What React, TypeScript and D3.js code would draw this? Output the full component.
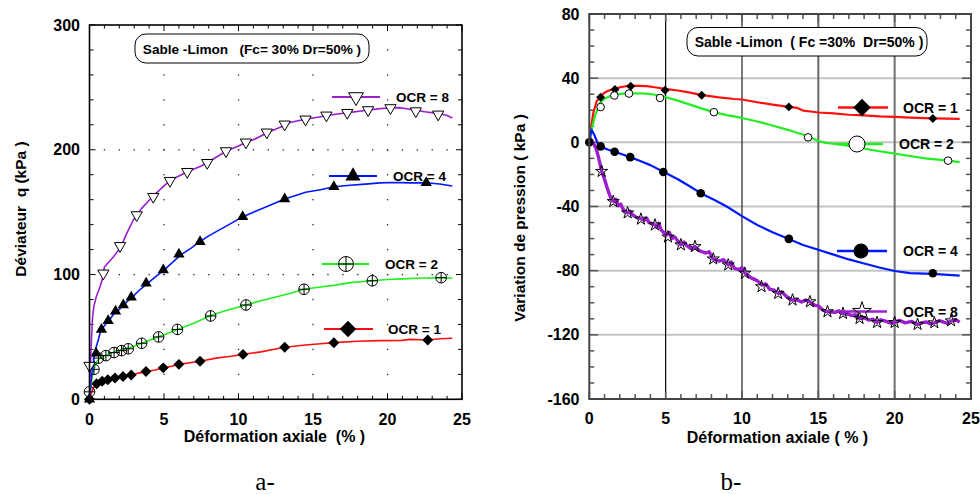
import React from 'react';
import * as d3 from 'd3';

type P = [number, number];

// ---------- Chart a: déviateur q (kPa) vs déformation axiale (%) ----------
const qOcr8Line: P[] = [[0,0],[0.1,40],[0.2,65],[0.3,75],[0.45,82],[0.7,90],[0.88,97],[1.0,106],[1.3,110],[1.6,114],[2.1,122],[2.5,133],[2.94,143.7],[3.5,153],[4.2,162],[5,171],[5.5,176],[6.5,182],[7.5,187],[8.5,194],[9.2,199],[10,203],[10.5,206],[11,208],[12,214],[13,219],[13.5,222],[14.5,224.5],[15.5,226.5],[16.5,228.5],[17.5,230],[18.5,231.5],[19.5,233],[20.2,233.5],[20.8,233.8],[21.5,232.5],[22.5,230.5],[23.5,229],[24,227.5],[24.35,225.5]];
const qOcr8Pts: P[] = [[0,27],[0.93,101],[2.05,123],[3.17,147.7],[4.28,162.4],[5.4,175.2],[6.56,182.4],[7.9,189.6],[9.16,199],[10.5,206],[11.9,214],[13.1,220.4],[14.5,224.4],[15.9,227.6],[17.3,229.7],[18.7,231.9],[20.2,233.5],[21.9,231],[23.4,228.4]];

const qOcr4Line: P[] = [[0,0],[0.15,20],[0.3,33],[0.4,40],[0.6,48],[0.75,55],[1.0,59],[1.3,63],[1.6,68],[2.0,72],[2.3,76],[2.8,81],[3.3,87],[3.8,92],[4.4,98],[5,103.6],[5.5,109],[6.1,115.6],[6.8,121],[7.4,126.3],[8,131],[8.6,135],[9.5,141],[10.3,146.4],[11,150],[12,155],[13.1,160.5],[14,164],[14.5,166],[15.5,168],[16.4,170.4],[17.5,171.5],[18.5,172.5],[19.5,173.5],[20.5,173.8],[21.5,173.5],[22.6,173.6],[23.5,172.5],[24.35,171]];
const qOcr4Pts: P[] = [[0,0],[0.44,37],[0.8,56],[1.25,63],[1.75,70.5],[2.27,75.6],[2.8,81.7],[3.8,93],[4.95,103.6],[6.0,116.3],[7.42,126.3],[10.28,146.4],[13.1,160.5],[16.4,170.4],[22.6,173.6]];

const qOcr2Line: P[] = [[0,0],[0.1,10],[0.2,20],[0.4,28],[0.6,32],[1.0,35],[1.6,37.5],[2.1,39.5],[2.6,41],[3.5,45],[4.6,50],[5.9,56],[7,61],[8.1,67],[9,70.5],[10.5,75.6],[11.5,79],[12.5,82],[13.5,85],[14.4,88.2],[15.5,90],[16.5,91.5],[17.5,93.5],[19,95],[20,96],[21,96.5],[22,97],[23.6,97.5],[24.35,97]];
const qOcr2Pts: P[] = [[0,6],[0.3,24],[0.6,33],[1.1,35],[1.65,37.5],[2.15,39],[2.6,40.5],[3.5,44.9],[4.64,50],[5.9,56],[8.13,66.8],[10.5,75.6],[14.4,88.2],[18.98,95],[23.6,97.5]];

const qOcr1Line: P[] = [[0,0],[0.15,6],[0.3,10],[0.5,12.5],[0.85,14.5],[1.23,15.7],[1.71,17],[2.25,18.2],[2.8,19.5],[3.3,21],[3.79,22.3],[4.4,23.5],[4.95,25.2],[5.5,26.5],[6.0,28],[7.42,30.5],[8.5,33],[9.5,34.5],[10.3,36],[11.5,38],[13.1,41.7],[14.5,43.5],[15.5,44.5],[16.4,45.4],[18,46.5],[19.5,47],[21,47.2],[21.5,48],[22.7,47.5],[23.5,48.5],[24.35,48.9]];
const qOcr1Pts: P[] = [[0,0],[0.48,12.5],[0.85,14.5],[1.23,15.7],[1.71,17],[2.25,18.2],[2.8,19.5],[3.79,22.3],[4.95,25.2],[6.0,28],[7.42,30.5],[10.3,36],[13.1,41.7],[16.4,45.4],[22.7,47.5]];

// ---------- Chart b: variation de pression (kPa) vs déformation axiale (%) ----------
const uOcr1Line: P[] = [[0,0],[0.1,8],[0.26,18.3],[0.48,25.6],[0.74,28.5],[0.92,30.4],[1.2,32],[1.57,33.3],[2.1,34.5],[2.66,35.4],[3.2,35.2],[3.76,35],[4.4,34.2],[4.96,33.3],[5.8,32.3],[6.6,31],[7.4,29.4],[8.5,28],[9.5,27],[10,26.7],[11,25],[12,23.5],[13.07,22.1],[13.6,21.5],[14,19.8],[14.5,19.2],[15,18.6],[16,18],[17,17.2],[18,16.8],[19,16.2],[20,15.9],[21,15.4],[22.5,14.9],[24.26,14.6]];
const uOcr1Pts: P[] = [[0.74,28.1],[1.68,32.9],[2.71,35],[4.96,32.5],[7.36,29.4],[13.07,22.1],[22.5,14.8]];

const uOcr2Line: P[] = [[0,0],[0.15,8],[0.37,16.3],[0.7,24.6],[1.0,27.3],[1.35,28.8],[1.8,29.8],[2.23,30.4],[3,30.6],[3.76,30.4],[4.4,29.5],[4.96,28.3],[5.8,26],[6.6,23.5],[7.4,21],[8.16,18.8],[9,17],[10,15.2],[11,13],[12,10.5],[13,7.8],[14.33,3.8],[15,0.8],[15.5,-0.3],[16.5,-1.5],[17.5,-3],[18.5,-4.8],[20,-7],[21,-8.5],[22,-10],[23.5,-11.4],[24.26,-12.3]];
const uOcr2Pts: P[] = [[0.74,22],[1.64,29.2],[2.6,30.4],[4.63,27.7],[8.16,18.8],[14.33,3.1],[23.5,-11.4]];

const uOcr4Line: P[] = [[0,0],[0.08,5],[0.15,7.9],[0.25,6],[0.37,3.75],[0.59,-1.5],[0.8,-3],[1.2,-4.5],[1.57,-5.6],[2.1,-7.3],[2.66,-9.2],[3.3,-11.5],[4,-14.2],[4.85,-18.3],[5.8,-23],[6.6,-27.5],[7.3,-31.7],[8.2,-36],[9,-40],[10,-46],[11,-51.5],[12,-56],[13.07,-60.2],[14,-64],[15,-67],[16,-70],[17,-73],[18,-75.5],[19,-78],[20,-80.2],[21,-81.5],[22.5,-82],[24.26,-83.1]];
const uOcr4Pts: P[] = [[0,0],[0.74,-2.5],[1.66,-5.9],[2.68,-9.2],[4.85,-18.5],[7.3,-31.7],[13.07,-60.2],[22.5,-81.6]];

const uOcr8Line: P[] = [[0,0],[0.1,2],[0.26,-0.4],[0.45,-4],[0.59,-8.75],[0.81,-18.1],[1.0,-23],[1.14,-27.5],[1.3,-32],[1.46,-35.8],[1.62,-37],[1.75,-35.5],[1.9,-39.5],[2.05,-38.5],[2.23,-42],[2.5,-44],[2.65,-42.8],[2.8,-45],[3.1,-46.8],[3.32,-47.3],[3.6,-48.5],[3.75,-47.2],[3.9,-50],[4.2,-50.8],[4.4,-52.5],[4.55,-50.5],[4.7,-54.5],[4.85,-56],[5.07,-57.7],[5.25,-56.2],[5.4,-60],[5.6,-59],[5.8,-61.5],[6.0,-63.9],[6.2,-62.2],[6.4,-64.5],[6.7,-66.5],[6.9,-65],[7.2,-67.5],[7.6,-69],[7.85,-68.2],[8.1,-72.7],[8.5,-74],[8.8,-73.2],[9.1,-76.4],[9.3,-74.6],[9.5,-78.5],[9.8,-79.4],[10.0,-78.2],[10.2,-81.6],[10.4,-83],[10.6,-84.5],[11.0,-86.2],[11.3,-89],[11.55,-88.2],[11.8,-91.5],[12.1,-92.2],[12.4,-94.2],[12.6,-93.2],[12.9,-96],[13.3,-98.3],[13.6,-98.2],[13.9,-99.5],[14.2,-98.4],[14.45,-99.4],[14.75,-101.5],[15,-102],[15.3,-104.6],[15.6,-105.6],[16.1,-106],[16.35,-105],[16.6,-106.7],[17.0,-107.2],[17.2,-108],[17.45,-107.4],[17.7,-109.8],[18.0,-109.4],[18.3,-110.8],[18.6,-110.3],[18.85,-112.3],[19.1,-110.6],[19.4,-111.5],[19.7,-112.6],[20,-112.3],[20.3,-111],[20.7,-112.5],[21.1,-111.6],[21.5,-113.5],[21.8,-112.4],[22.1,-112],[22.35,-113.2],[22.6,-112.5],[22.9,-111.2],[23.2,-112],[23.45,-112.8],[23.7,-111.3],[24.0,-110.8],[24.26,-112]];
const uOcr8Pts: P[] = [[0.81,-18.1],[1.57,-36.9],[2.51,-44],[3.38,-47.9],[4.3,-51.5],[5.15,-59],[6.0,-63.9],[6.92,-65],[8.12,-72.7],[9.1,-76.4],[10.19,-81.6],[11.28,-90],[12.37,-94.2],[13.31,-98.3],[14.45,-99.4],[15.6,-105.6],[16.62,-106.7],[17.7,-109.8],[18.85,-112.3],[20,-112.3],[21.5,-113.5],[22.6,-112.5],[23.7,-111.3]];

// ---------- ticks & labels ----------
const strainTickLabels = [0, 5, 10, 15, 20, 25];
const qTickLabels = [0, 100, 200, 300];
const uTickLabels = [80, 40, 0, -40, -80, -120, -160];
const ocrLabels = ['OCR = 1', 'OCR = 2', 'OCR = 4', 'OCR = 8'];
const leftBoxText = 'Sable -Limon   (Fc= 30% Dr=50% )';
const rightBoxText = 'Sable -Limon  ( Fc =30%  Dr=50% )';

// ---------- scales ----------
const lx = d3.scaleLinear().domain([0, 25]).range([89.5, 462]);
const ly = d3.scaleLinear().domain([0, 300]).range([399.3, 25]);
const rx = d3.scaleLinear().domain([0, 25]).range([589.3, 971]);
const ry = d3.scaleLinear().domain([-160, 80]).range([399, 14]);

const RED = '#ff1010';
const GREEN = '#22ee22';
const BLUE = '#0018ff';
const PURPLE = '#9b1fcf';
const FONT = 'Liberation Sans, Arial, sans-serif';

const sym = (type: d3.SymbolType, size: number) => d3.symbol().type(type).size(size)() as string;

type MarkerKind = 'triDown' | 'triUp' | 'circlePlus' | 'diamond' | 'circleOpen' | 'circleFilled' | 'star';

function Marker({ kind, x, y, s }: { kind: MarkerKind; x: number; y: number; s: number }) {
  switch (kind) {
    case 'triDown':
      return <path d={sym(d3.symbolTriangle, s)} transform={`translate(${x},${y}) rotate(180)`} fill="#fff" stroke="#000" strokeWidth={1} />;
    case 'triUp':
      return <path d={sym(d3.symbolTriangle, s)} transform={`translate(${x},${y})`} fill="#000" />;
    case 'diamond':
      return <path d={sym(d3.symbolSquare, s)} transform={`translate(${x},${y}) rotate(45)`} fill="#000" />;
    case 'circlePlus':
      return (
        <g transform={`translate(${x},${y})`} stroke="#000" strokeWidth={1} fill="none">
          <circle r={s} />
          <line x1={-s} x2={s} y1={0} y2={0} />
          <line x1={0} x2={0} y1={-s} y2={s} />
        </g>
      );
    case 'circleOpen':
      return <circle cx={x} cy={y} r={s} fill="#fff" stroke="#000" strokeWidth={1} />;
    case 'circleFilled':
      return <circle cx={x} cy={y} r={s} fill="#000" />;
    case 'star':
      return <path d={sym(d3.symbolStar, s)} transform={`translate(${x},${y})`} fill="none" stroke="#000" strokeWidth={1} />;
  }
  return null;
}

export default function App() {
  const lineL = d3.line<P>().x(d => lx(d[0])).y(d => ly(d[1]));
  const lineR = d3.line<P>().x(d => rx(d[0])).y(d => ry(d[1]));

  const leftSeries = [
    { line: qOcr1Line, pts: qOcr1Pts, color: RED, kind: 'diamond' as MarkerKind, s: 60, label: ocrLabels[0], lg: { x1: 324, x2: 373, y: 329, mx: 348, tx: 388, s: 135 } },
    { line: qOcr2Line, pts: qOcr2Pts, color: GREEN, kind: 'circlePlus' as MarkerKind, s: 5.3, label: ocrLabels[1], lg: { x1: 322, x2: 369, y: 264, mx: 346, tx: 385, s: 7.5 } },
    { line: qOcr4Line, pts: qOcr4Pts, color: BLUE, kind: 'triUp' as MarkerKind, s: 55, label: ocrLabels[2], lg: { x1: 329, x2: 377, y: 176, mx: 353, tx: 393, s: 100 } },
    { line: qOcr8Line, pts: qOcr8Pts, color: PURPLE, kind: 'triDown' as MarkerKind, s: 55, label: ocrLabels[3], lg: { x1: 332, x2: 380, y: 97, mx: 356, tx: 396, s: 95 } },
  ];
  const rightSeries = [
    { line: uOcr1Line, pts: uOcr1Pts, color: RED, w: 2.2, kind: 'diamond' as MarkerKind, s: 40, label: ocrLabels[0], lg: { x1: 838, x2: 888, y: 107.5, mx: 862, tx: 903, s: 150 } },
    { line: uOcr2Line, pts: uOcr2Pts, color: GREEN, w: 2.2, kind: 'circleOpen' as MarkerKind, s: 3.8, label: ocrLabels[1], lg: { x1: 836, x2: 883, y: 144, mx: 857, tx: 899, s: 8 } },
    { line: uOcr4Line, pts: uOcr4Pts, color: BLUE, w: 2.2, kind: 'circleFilled' as MarkerKind, s: 4.3, label: ocrLabels[2], lg: { x1: 837, x2: 887, y: 251, mx: 861, tx: 903, s: 7.5 } },
    { line: uOcr8Line, pts: uOcr8Pts, color: PURPLE, w: 3.4, kind: 'star' as MarkerKind, s: 45, label: ocrLabels[3], lg: { x1: 836, x2: 887, y: 311.5, mx: 862, tx: 903, s: 110 } },
  ];

  const [lx0, lx1] = lx.range();
  const [ly0, ly1] = ly.range();
  const [rx0, rx1] = rx.range();
  const [ry0, ry1] = ry.range();

  const strainMinor = d3.range(0, 26, 1);

  return (
    <svg width={980} height={494} style={{ position: 'absolute', left: 0, top: 0, background: '#fff' }} fontFamily={FONT}>
      <rect width={980} height={494} fill="#fff" />

      {/* ================= Chart a ================= */}
      <g fill="#222">
        {[5, 10, 15, 20].flatMap(g => d3.range(20, 300, 20).map(v => (
          <rect key={`vd${g}-${v}`} x={lx(g) - 0.6} y={ly(v) - 0.6} width={1.3} height={1.3} />
        )))}
        {[100, 200].flatMap(v => d3.range(1, 25, 1).map(g => (
          <rect key={`hd${v}-${g}`} x={lx(g) - 0.6} y={ly(v) - 0.6} width={1.3} height={1.3} />
        )))}
      </g>
      <g stroke="#000" strokeWidth={1}>
        {strainMinor.map(t => {
          const len = t % 5 === 0 ? 6 : 3.5;
          return (
            <g key={`lxt${t}`}>
              <line x1={lx(t)} x2={lx(t)} y1={ly0} y2={ly0 - len} />
              <line x1={lx(t)} x2={lx(t)} y1={ly1} y2={ly1 + len} />
            </g>
          );
        })}
        {d3.range(0, 301, 20).map(t => {
          const len = t % 100 === 0 ? 6 : 4;
          return (
            <g key={`lyt${t}`}>
              <line x1={lx0} x2={lx0 + len} y1={ly(t)} y2={ly(t)} />
              <line x1={lx1} x2={lx1 - len} y1={ly(t)} y2={ly(t)} />
            </g>
          );
        })}
      </g>
      {leftSeries.map((s, i) => (
        <g key={`ls${i}`}>
          <path d={lineL(s.line) as string} fill="none" stroke={s.color} strokeWidth={1.6} strokeLinejoin="round" />
          {s.pts.map((p, j) => <Marker key={j} kind={s.kind} x={lx(p[0])} y={ly(p[1])} s={s.s} />)}
        </g>
      ))}
      <rect x={lx0} y={ly1} width={lx1 - lx0} height={ly0 - ly1} fill="none" stroke="#000" strokeWidth={1.6} />
      {leftSeries.map((s, i) => (
        <g key={`ll${i}`}>
          <line x1={s.lg.x1} x2={s.lg.x2} y1={s.lg.y} y2={s.lg.y} stroke={s.color} strokeWidth={2} />
          <Marker kind={s.kind} x={s.lg.mx} y={s.lg.y} s={s.lg.s} />
          <text x={s.lg.tx} y={s.lg.y + 4.8} fontSize={13.5} fontWeight="bold" fill="#000">{s.label}</text>
        </g>
      ))}
      <rect x={135} y={34} width={234} height={29} rx={11} fill="#fff" stroke="#000" strokeWidth={1} />
      <text x={252} y={53.8} textAnchor="middle" fontSize={13.6} fontWeight="bold" style={{ whiteSpace: 'pre' }}>{leftBoxText}</text>
      {strainTickLabels.map(t => (
        <text key={`lxl${t}`} x={lx(t)} y={425} textAnchor="middle" fontSize={16} fontWeight="bold">{t}</text>
      ))}
      {qTickLabels.map(t => (
        <text key={`lyl${t}`} x={80} y={ly(t) + 5.6} textAnchor="end" fontSize={16} fontWeight="bold">{t}</text>
      ))}
      <text x={274.5} y={442} textAnchor="middle" fontSize={16} fontWeight="bold" style={{ whiteSpace: 'pre' }}>{'Déformation axiale  (% )'}</text>
      <text transform="translate(25.5,209) rotate(-90)" textAnchor="middle" fontSize={15.5} fontWeight="bold" style={{ whiteSpace: 'pre' }}>{'Déviateur  q (kPa )'}</text>
      <text x={265} y={490} textAnchor="middle" fontSize={25} fontFamily="Liberation Serif, Times New Roman, serif">a-</text>

      {/* ================= Chart b ================= */}
      <g>
        {[40, 0, -40, -80, -120].map(v => (
          <line key={`rh${v}`} x1={rx0} x2={rx1} y1={ry(v)} y2={ry(v)} stroke="#c4c4c4" strokeWidth={2} />
        ))}
        {[5, 10, 15, 20].map((g, i) => (
          <line key={`rv${g}`} x1={rx(g)} x2={rx(g)} y1={ry0} y2={ry1} stroke={['#000', '#222', '#666', '#707070'][i]} strokeWidth={i < 2 ? 1.2 : 2} />
        ))}
      </g>
      <g stroke="#555" strokeWidth={1.5}>
        {strainMinor.map(t => {
          const len = t % 5 === 0 ? 8 : 5;
          return (
            <g key={`rxt${t}`}>
              <line x1={rx(t)} x2={rx(t)} y1={ry0} y2={ry0 - len} />
              <line x1={rx(t)} x2={rx(t)} y1={ry1} y2={ry1 + len} />
            </g>
          );
        })}
        {d3.range(-160, 81, 10).map(t => {
          const len = t % 40 === 0 ? 9 : 5;
          return (
            <g key={`ryt${t}`}>
              <line x1={rx0} x2={rx0 + len} y1={ry(t)} y2={ry(t)} />
              <line x1={rx1} x2={rx1 - len} y1={ry(t)} y2={ry(t)} />
            </g>
          );
        })}
      </g>
      {rightSeries.map((s, i) => (
        <g key={`rs${i}`}>
          <path d={lineR(s.line) as string} fill="none" stroke={s.color} strokeWidth={s.w} strokeLinejoin="round" />
        </g>
      ))}
      {rightSeries.map((s, i) => (
        <g key={`rm${i}`}>
          {s.pts.map((p, j) => <Marker key={j} kind={s.kind} x={rx(p[0])} y={ry(p[1])} s={s.s} />)}
        </g>
      ))}
      <rect x={rx0} y={ry1} width={rx1 - rx0} height={ry0 - ry1} fill="none" stroke="#444" strokeWidth={2} />
      {rightSeries.map((s, i) => (
        <g key={`rl${i}`}>
          <line x1={s.lg.x1} x2={s.lg.x2} y1={s.lg.y} y2={s.lg.y} stroke={s.color} strokeWidth={2.5} />
          <Marker kind={s.kind} x={s.lg.mx} y={s.lg.y} s={s.lg.s} />
          <text x={s.lg.tx} y={s.lg.y + 5} fontSize={14} fontWeight="bold" fill="#000">{s.label}</text>
        </g>
      ))}
      <rect x={687} y={27.5} width={240} height={28.5} rx={11} fill="#fff" stroke="#000" strokeWidth={1} />
      <text x={809} y={47} textAnchor="middle" fontSize={14} fontWeight="bold" style={{ whiteSpace: 'pre' }}>{rightBoxText}</text>
      {strainTickLabels.map(t => (
        <text key={`rxl${t}`} x={rx(t)} y={423.5} textAnchor="middle" fontSize={16} fontWeight="bold">{t}</text>
      ))}
      {uTickLabels.map(t => (
        <text key={`ryl${t}`} x={579.5} y={ry(t) + 5.6} textAnchor="end" fontSize={16} fontWeight="bold">{t}</text>
      ))}
      <text x={777.5} y={443} textAnchor="middle" fontSize={16} fontWeight="bold" style={{ whiteSpace: 'pre' }}>{'Déformation axiale ( % )'}</text>
      <text transform="translate(524.5,218) rotate(-90)" textAnchor="middle" fontSize={15.5} fontWeight="bold" style={{ whiteSpace: 'pre' }}>{'Variation de pression ( kPa )'}</text>
      <text x={731} y={490} textAnchor="middle" fontSize={25} fontFamily="Liberation Serif, Times New Roman, serif">b-</text>
    </svg>
  );
}
